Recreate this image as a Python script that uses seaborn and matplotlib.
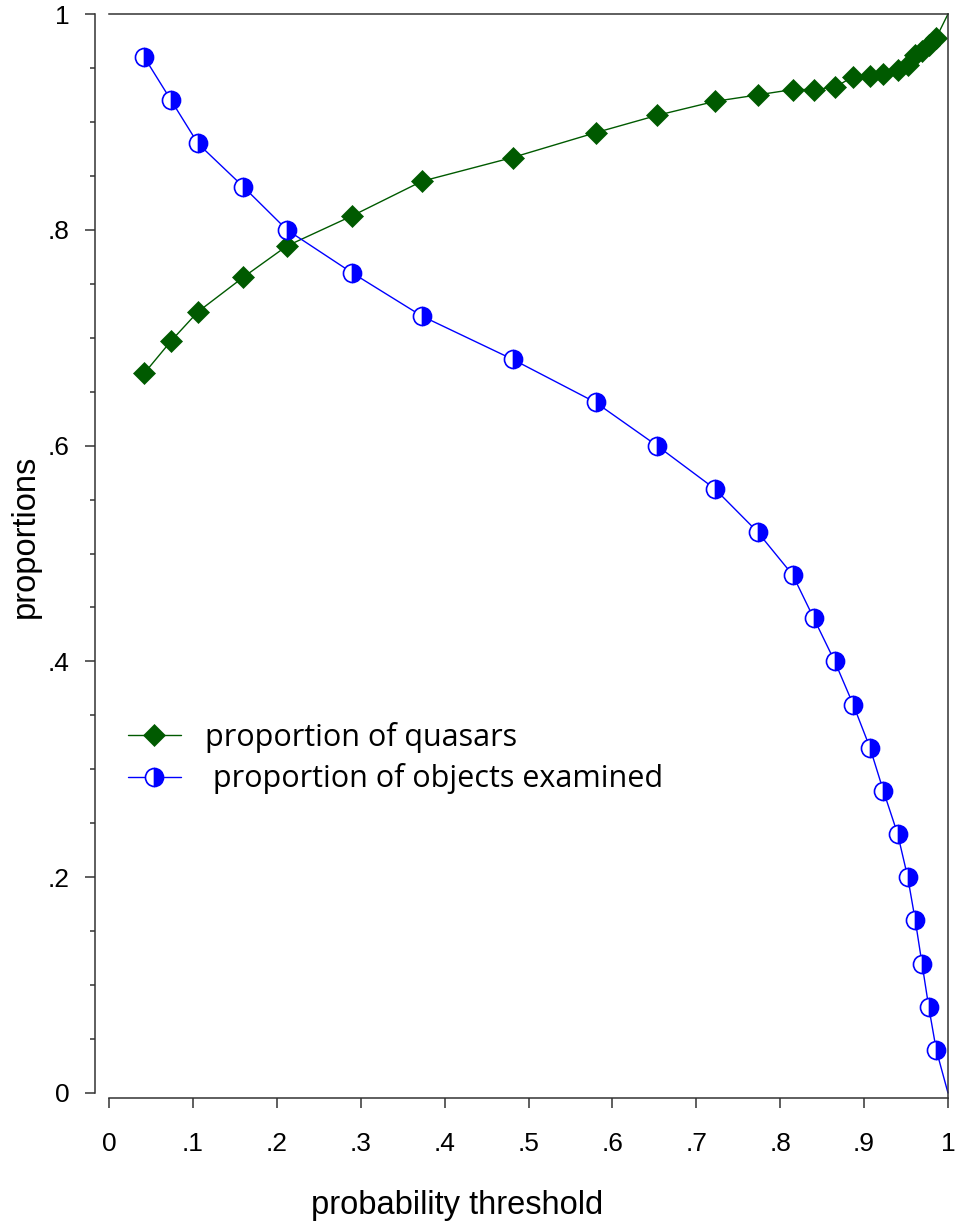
import matplotlib
matplotlib.use("Agg")
import matplotlib.pyplot as plt
import seaborn as sns
import pandas as pd
from matplotlib.ticker import MultipleLocator
from matplotlib.font_manager import FontProperties

# ---- data ----
thresholds = [0.042, 0.074, 0.106, 0.160, 0.212, 0.290, 0.373, 0.481, 0.580, 0.653,
              0.722, 0.773, 0.815, 0.840, 0.865, 0.887, 0.907, 0.923, 0.940, 0.952,
              0.961, 0.969, 0.977, 0.986, 1.0]
prop_quasars = [0.667, 0.697, 0.724, 0.756, 0.785, 0.813, 0.845, 0.867, 0.890, 0.906,
                0.919, 0.925, 0.930, 0.930, 0.932, 0.942, 0.943, 0.944, 0.948, 0.953,
                0.962, 0.966, 0.971, 0.978, 1.0]
prop_examined = [0.96, 0.92, 0.88, 0.84, 0.80, 0.76, 0.72, 0.68, 0.64, 0.60,
                 0.56, 0.52, 0.48, 0.44, 0.40, 0.36, 0.32, 0.28, 0.24, 0.20,
                 0.16, 0.12, 0.08, 0.04, 0.0]
x_ticks = [0, .1, .2, .3, .4, .5, .6, .7, .8, .9, 1]
x_tick_labels = ["0", ".1", ".2", ".3", ".4", ".5", ".6", ".7", ".8", ".9", "1"]
y_ticks = [0, .2, .4, .6, .8, 1]
y_tick_labels = ["0", ".2", ".4", ".6", ".8", "1"]
legend_labels = ["proportion of quasars", " proportion of objects examined"]
x_title = "probability threshold"
y_title = "proportions"

sns.set_style("white")
plt.rcParams['font.family'] = ['Liberation Sans', 'DejaVu Sans']
plt.rcParams['text.color'] = 'black'
plt.rcParams['axes.labelcolor'] = 'black'
plt.rcParams['xtick.labelcolor'] = 'black'
plt.rcParams['ytick.labelcolor'] = 'black'

W, H = 955, 1222
fig = plt.figure(figsize=(W / 100, H / 100), dpi=100)
ax = fig.add_axes([109 / W, 1 - 1093 / H, (948 - 109) / W, (1093 - 14) / H])

df = pd.DataFrame({"threshold": thresholds, "quasars": prop_quasars,
                   "examined": prop_examined})
n_marked = len(thresholds) - 1

green = "#005a00"
blue = "#0000ff"
sns.lineplot(data=df, x="threshold", y="quasars", ax=ax, color=green, lw=1.0,
             marker="D", markersize=11.5, markeredgecolor=green, markeredgewidth=0.5,
             markevery=slice(0, n_marked), label=legend_labels[0], clip_on=False,
             sort=False)
sns.lineplot(data=df, x="threshold", y="examined", ax=ax, color=blue, lw=1.0,
             marker="o", markersize=13, fillstyle="right", markerfacecolor=blue,
             markerfacecoloralt="white", markeredgecolor=blue, markeredgewidth=1.2,
             markevery=slice(0, n_marked), label=legend_labels[1], clip_on=False,
             sort=False)

ax.set_xlim(0, 1)
ax.set_ylim(0, 1)
ax.set_xticks(x_ticks, labels=x_tick_labels)
ax.set_yticks(y_ticks, labels=y_tick_labels)
ax.yaxis.set_minor_locator(MultipleLocator(0.05))

spine_col = "#333333"
for s in ax.spines.values():
    s.set_visible(True)
    s.set_color(spine_col)
    s.set_linewidth(1.1)
ax.spines["left"].set_position(("outward", 10.1))
ax.spines["bottom"].set_position(("outward", 3.6))
ax.spines["right"].set_bounds(-5 / 1079, 1)

ax.tick_params(axis="y", which="major", left=True, length=7.2, width=1.1,
               color=spine_col, pad=10.8, labelsize=19, labelcolor="black")
ax.tick_params(axis="y", which="minor", left=True, length=3.6, width=1.1,
               color=spine_col)
ax.tick_params(axis="x", which="major", bottom=True, length=7.2, width=1.1,
               color=spine_col, pad=17, labelsize=19, labelcolor="black")

ax.set_xlabel(x_title, fontsize=23.5, color="black")
ax.set_ylabel(y_title, fontsize=23.5, color="black")
ax.xaxis.set_label_coords((457 - 109) / 839, (1093 - 1190) / 1079)
ax.yaxis.set_label_coords((41 - 109) / 839, (1093 - 536) / 1079)

leg = ax.legend(loc="upper left", bbox_to_anchor=(128 / W, 1 - 722 / H),
                bbox_transform=fig.transFigure, frameon=False,
                prop=FontProperties(family="Open Sans", size=22),
                handlelength=1.73, handletextpad=0.78, borderpad=0, borderaxespad=0,
                labelspacing=0.34)
for t in leg.get_texts():
    t.set_color("black")

fig.savefig("out.png", dpi=100)
